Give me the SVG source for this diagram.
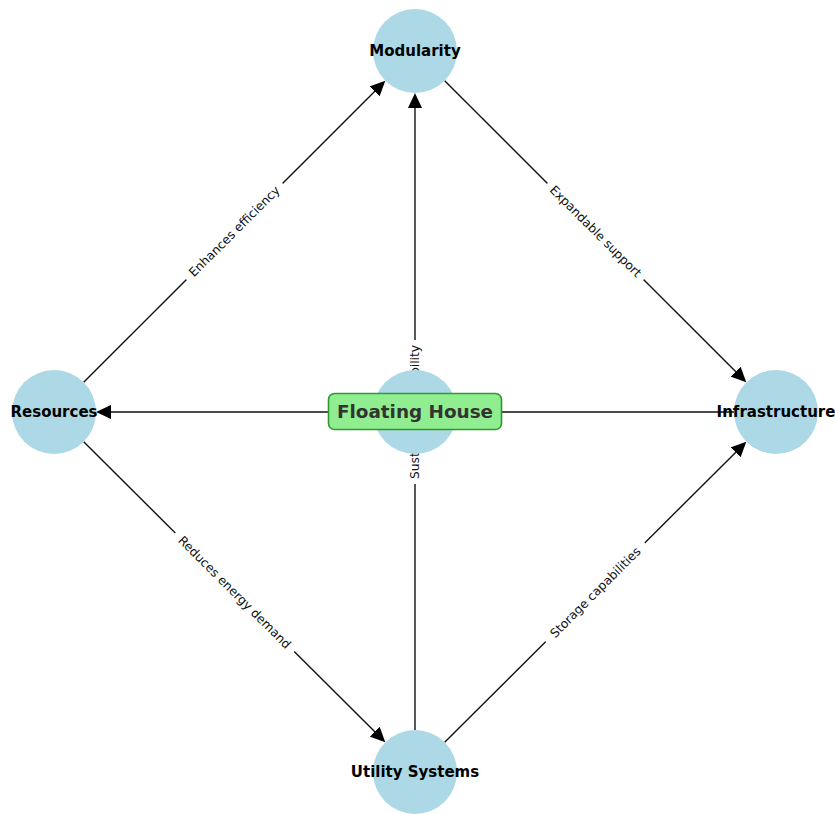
<svg xmlns="http://www.w3.org/2000/svg" width="835" height="814" viewBox="0 0 835 814">
<style>
.edge{stroke:#111;stroke-width:1.4;fill:none;marker-end:url(#arr)}
.lbl-bg{fill:#fff;stroke:none}
.lbl{font-family:"DejaVu Sans",sans-serif;font-size:12.3px;fill:#111;text-anchor:middle;dominant-baseline:central}
.node{fill:#ADD8E6}
.ntext{font-family:"DejaVu Sans",sans-serif;font-size:15px;font-weight:bold;fill:#000;text-anchor:middle;dominant-baseline:central}
</style>
<defs>
<marker id="arr" viewBox="0 0 15 14" refX="2" refY="7" markerWidth="15" markerHeight="14" markerUnits="userSpaceOnUse" orient="auto">
<path d="M0,0 L15,7 L0,14 z" fill="#000"/>
</marker>
</defs>
<rect width="835" height="814" fill="#fff"/>
<g id="connectors">
<path class="edge" d="M83.7,382.3 L376.1,89.9"/>
<path class="edge" d="M444.7,80.7 L737.1,373.1"/>
<path class="edge" d="M83.7,441.7 L376.1,733.1"/>
<path class="edge" d="M444.7,742.3 L737.1,450.9"/>
<path class="edge" d="M415,730 L415,106"/>
<path class="edge" d="M734,412 L109,412"/>
<g transform="translate(234.5,231.5) rotate(-45)"><rect class="lbl-bg" x="-68" y="-8" width="136" height="16"/><text class="lbl">Enhances efficiency</text></g>
<g transform="translate(595.5,231.5) rotate(45)"><rect class="lbl-bg" x="-68" y="-8" width="136" height="16"/><text class="lbl">Expandable support</text></g>
<g transform="translate(234.5,592.5) rotate(45)"><rect class="lbl-bg" x="-84" y="-8" width="168" height="16"/><text class="lbl">Reduces energy demand</text></g>
<g transform="translate(595.5,592.5) rotate(-45)"><rect class="lbl-bg" x="-70" y="-8" width="140" height="16"/><text class="lbl">Storage capabilities</text></g>
<g transform="translate(415,412) rotate(-90)"><rect class="lbl-bg" x="-72" y="-8" width="144" height="16"/><text class="lbl">Sustainable durability</text></g>
</g>
<g id="modularity"><circle class="node" cx="415" cy="51" r="42"/><text class="ntext" x="415" y="51">Modularity</text></g>
<g id="resources"><circle class="node" cx="54" cy="412" r="42"/><text class="ntext" x="54" y="412">Resources</text></g>
<g id="infrastructure"><circle class="node" cx="776" cy="412" r="42"/><text class="ntext" x="776" y="412">Infrastructure</text></g>
<g id="utility-systems"><circle class="node" cx="415" cy="772" r="42"/><text class="ntext" x="415" y="772">Utility Systems</text></g>
<g id="floating-house">
<circle class="node" cx="415" cy="412" r="42"/>
<rect x="328.5" y="393.5" width="173" height="36" rx="6" fill="#90EE90" stroke="#2E9A2E" stroke-width="1.6"/>
<text x="415" y="411.5" font-family="DejaVu Sans, sans-serif" font-size="18.4" font-weight="bold" fill="#333" text-anchor="middle" dominant-baseline="central">Floating House</text>
</g>
</svg>
